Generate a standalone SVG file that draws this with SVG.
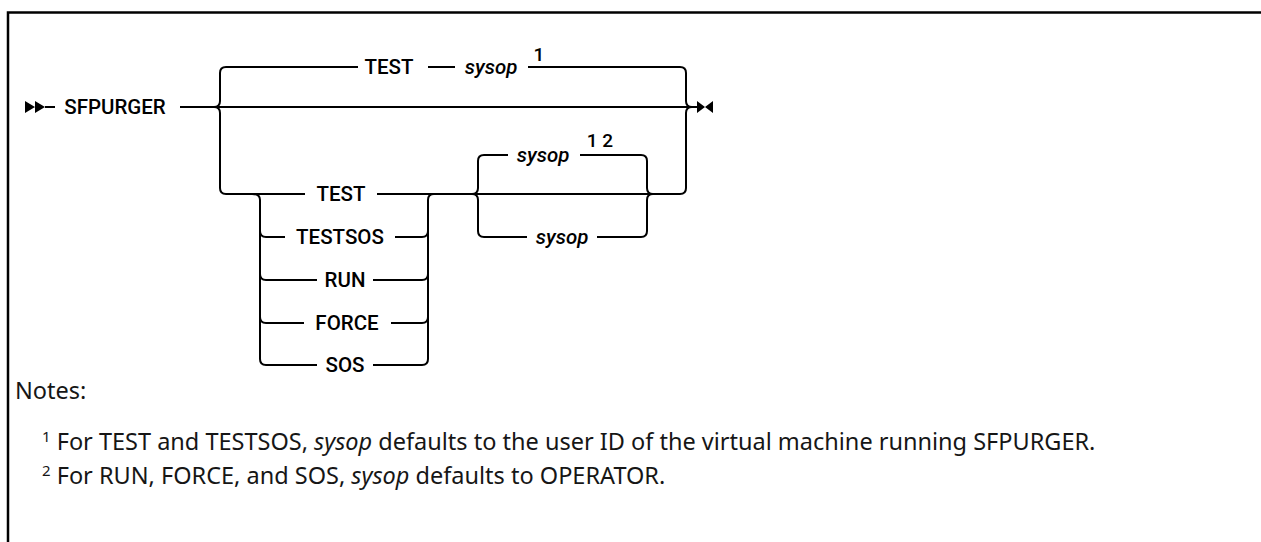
<svg xmlns="http://www.w3.org/2000/svg" width="1261" height="542" viewBox="0 0 1261 542">
<style>
.ln{fill:none;stroke:#000;stroke-width:2;stroke-linejoin:round}
.kw{font-family:Roboto,"Liberation Sans",sans-serif;font-weight:500;font-size:20.5px;fill:#000;text-anchor:middle;dominant-baseline:central}
.var{font-family:Roboto,"Liberation Sans",sans-serif;font-style:italic;font-weight:500;font-size:20.5px;fill:#000;text-anchor:middle;dominant-baseline:central}
.sup{font-family:Roboto,"Liberation Sans",sans-serif;font-weight:500;font-size:19px;fill:#000;text-anchor:middle;dominant-baseline:central}
.note{font-family:"Noto Sans","Liberation Sans",sans-serif;font-size:23.5px;fill:#161616}
.nsup{font-size:15px}
</style>
<rect x="0" y="0" width="1261" height="542" fill="#fff"/>
<path d="M8 560 V12.5 H1280" fill="none" stroke="#000" stroke-width="2.5"/>
<g id="connectors">
<path class="ln" d="M45 107 H55"/>
<path class="ln" d="M180 107 H692 H698"/>
<path class="ln" d="M214 107 Q220 107 220 101 V73 Q220 67 226 67 H358"/>
<path class="ln" d="M428 67 H455"/>
<path class="ln" d="M528 67 H680 Q686 67 686 73 V101 Q686 107 692 107"/>
<path class="ln" d="M214 107 Q220 107 220 113 V188 Q220 194 226 194 H305"/>
<path class="ln" d="M377 194 H680 Q686 194 686 188 V113 Q686 107 692 107"/>
<path class="ln" d="M252 194 Q260 194 260 200 V359 Q260 365 266 365"/>
<path class="ln" d="M260 231 Q260 237 266 237 H285"/>
<path class="ln" d="M260 274 Q260 280 266 280 H317"/>
<path class="ln" d="M260 317 Q260 323 266 323 H304"/>
<path class="ln" d="M266 365 H317"/>
<path class="ln" d="M395 237 H422 Q428 237 428 231"/>
<path class="ln" d="M373 280 H422 Q428 280 428 274"/>
<path class="ln" d="M391 323 H422 Q428 323 428 317"/>
<path class="ln" d="M373 365 H422 Q428 365 428 359 V200 Q428 194 434 194"/>
<path class="ln" d="M472 194 Q478 194 478 188 V161 Q478 155 484 155 H508"/>
<path class="ln" d="M580 155 H641 Q647 155 647 161 V188 Q647 194 653 194"/>
<path class="ln" d="M472 194 Q478 194 478 200 V231 Q478 237 484 237 H527"/>
<path class="ln" d="M597 237 H641 Q647 237 647 231 V200 Q647 194 653 194"/>
<path d="M25 101 L35 107 L25 113 Z M35 101 L45 107 L35 113 Z" fill="#000"/>
<path d="M697 101 L705 107 L697 113 Z M713 101 L705 107 L713 113 Z" fill="#000"/>
</g>
<g id="cmd"><text class="kw" x="115" y="107">SFPURGER</text></g>
<g id="top-test"><text class="kw" x="389" y="67">TEST</text></g>
<g id="top-sysop"><text class="var" x="491" y="67">sysop</text><text class="sup" x="539" y="54">1</text></g>
<g id="opt-test"><text class="kw" x="341" y="194">TEST</text></g>
<g id="opt-testsos"><text class="kw" x="340" y="237">TESTSOS</text></g>
<g id="opt-run"><text class="kw" x="345" y="280">RUN</text></g>
<g id="opt-force"><text class="kw" x="347" y="323">FORCE</text></g>
<g id="opt-sos"><text class="kw" x="345" y="365">SOS</text></g>
<g id="def-sysop"><text class="var" x="543" y="155">sysop</text><text class="sup" x="600" y="140">1 2</text></g>
<g id="alt-sysop"><text class="var" x="562" y="237">sysop</text></g>
<g id="notes">
<text class="note" x="15" y="399">Notes:</text>
<text class="note" x="42" y="450"><tspan class="nsup" dy="-8">1</tspan><tspan dy="8"> For TEST and TESTSOS, </tspan><tspan font-style="italic">sysop</tspan> defaults to the user ID of the virtual machine running SFPURGER.</text>
<text class="note" x="42" y="484"><tspan class="nsup" dy="-8">2</tspan><tspan dy="8"> For RUN, FORCE, and SOS, </tspan><tspan font-style="italic">sysop</tspan> defaults to OPERATOR.</text>
</g>
</svg>
